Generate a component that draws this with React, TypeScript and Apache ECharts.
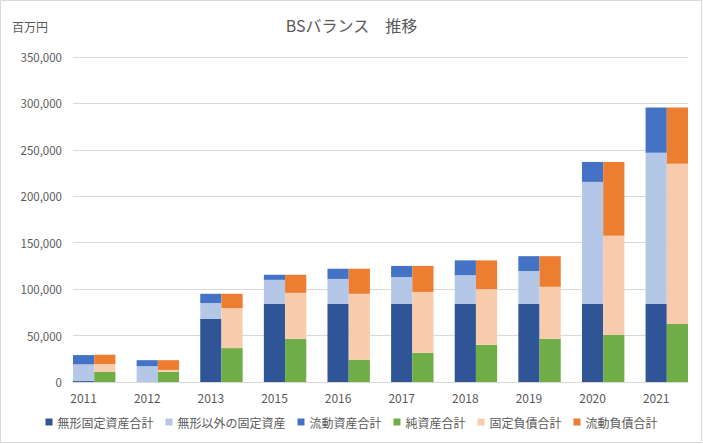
import React, { useEffect, useRef } from "react";
import * as echarts from "echarts";

const years = ["2011", "2012", "2013", "2015", "2016", "2017", "2018", "2019", "2020", "2021"];

// 資産側 (left bar of each year)
const intangibleFixed = [1000, 0, 68000, 84000, 84000, 84000, 84000, 84000, 84000, 84000];
const otherFixed = [18000, 17000, 17000, 26000, 27000, 29000, 31000, 35500, 131500, 163000];
const currentAssets = [10000, 6500, 10000, 5500, 11000, 12000, 16000, 16000, 21500, 48500];

// 負債・純資産側 (right bar of each year)
const netAssets = [11000, 11000, 36500, 46500, 24000, 31500, 40000, 46500, 50500, 62500];
const fixedLiab = [8400, 2000, 43000, 49500, 71000, 65500, 60000, 56000, 107000, 172500];
const currentLiab = [10000, 10500, 15500, 19500, 27000, 28000, 31000, 33000, 79500, 60500];

const yTicks = { min: 0, max: 350000, interval: 50000 };

const seriesNames = ["無形固定資産合計", "無形以外の固定資産", "流動資産合計", "純資産合計", "固定負債合計", "流動負債合計"];
const colors = ["#2F5597", "#B4C7E7", "#4472C4", "#70AD47", "#F8CBAD", "#ED7D31"];

const FONT = "'Noto Sans CJK JP', 'Noto Sans', sans-serif";

export default function App() {
  const ref = useRef<HTMLDivElement>(null);

  useEffect(() => {
    if (!ref.current) return;
    const chart = echarts.init(ref.current, undefined, { renderer: "svg" });

    // slots: [year asset, year liability, gap] ... (no gap after last year)
    const slots: string[] = [];
    years.forEach((y, i) => {
      slots.push(y);
      slots.push(y + "_L");
      if (i < years.length - 1) slots.push(y + "_G");
    });
    const assetSlot = (arr: number[]) =>
      slots.map((s) => {
        const i = years.indexOf(s);
        return i >= 0 ? arr[i] : null;
      });
    const liabSlot = (arr: number[]) =>
      slots.map((s) => {
        if (!s.endsWith("_L")) return null;
        const i = years.indexOf(s.slice(0, -2));
        return arr[i];
      });

    const seriesData = [
      assetSlot(intangibleFixed),
      assetSlot(otherFixed),
      assetSlot(currentAssets),
      liabSlot(netAssets),
      liabSlot(fixedLiab),
      liabSlot(currentLiab),
    ];

    chart.setOption({
      animation: false,
      color: colors,
      textStyle: { fontFamily: FONT },
      title: {
        text: "BSバランス　推移",
        left: "center",
        top: 12,
        textStyle: { fontSize: 16, fontWeight: "normal", color: "#595959", fontFamily: FONT },
      },
      graphic: [
        {
          type: "rect",
          shape: { x: 0.5, y: 0.5, width: 701, height: 442 },
          style: { fill: "none", stroke: "#d9d9d9", lineWidth: 1 },
          silent: true,
        },
        {
          type: "text",
          left: 12,
          top: 20,
          style: { text: "百万円", fontSize: 12, fill: "#595959", fontFamily: FONT },
        },
      ],
      legend: {
        bottom: 11,
        left: "center",
        itemWidth: 7,
        itemHeight: 7,
        itemGap: 12,
        icon: "rect",
        textStyle: { fontSize: 12, color: "#595959", fontFamily: FONT },
        data: seriesNames,
      },
      grid: { left: 73, right: 15, top: 57, bottom: 62, containLabel: false },
      xAxis: {
        type: "category",
        data: slots,
        axisLine: { lineStyle: { color: "#d9d9d9" } },
        axisTick: { show: false },
        axisLabel: {
          interval: 0,
          color: "#595959",
          fontSize: 12,
          margin: 9,
          formatter: (v: string) => (years.includes(v) ? v : ""),
        },
      },
      yAxis: {
        type: "value",
        min: yTicks.min,
        max: yTicks.max,
        interval: yTicks.interval,
        axisLine: { show: false },
        axisTick: { show: false },
        splitLine: { lineStyle: { color: "#d9d9d9" } },
        axisLabel: {
          color: "#595959",
          fontSize: 11.5,
          margin: 11,
          formatter: (v: number) => v.toLocaleString("en-US"),
        },
      },
      series: seriesNames.map((name, k) => ({
        name,
        type: "bar",
        stack: "total",
        barCategoryGap: "0%",
        barGap: "0%",
        data: seriesData[k],
        itemStyle: { color: colors[k] },
      })),
    });

    return () => chart.dispose();
  }, []);

  return (
    <div
      ref={ref}
      style={{ position: "absolute", left: 0, top: 0, width: 703, height: 444, background: "#fff" }}
    />
  );
}
